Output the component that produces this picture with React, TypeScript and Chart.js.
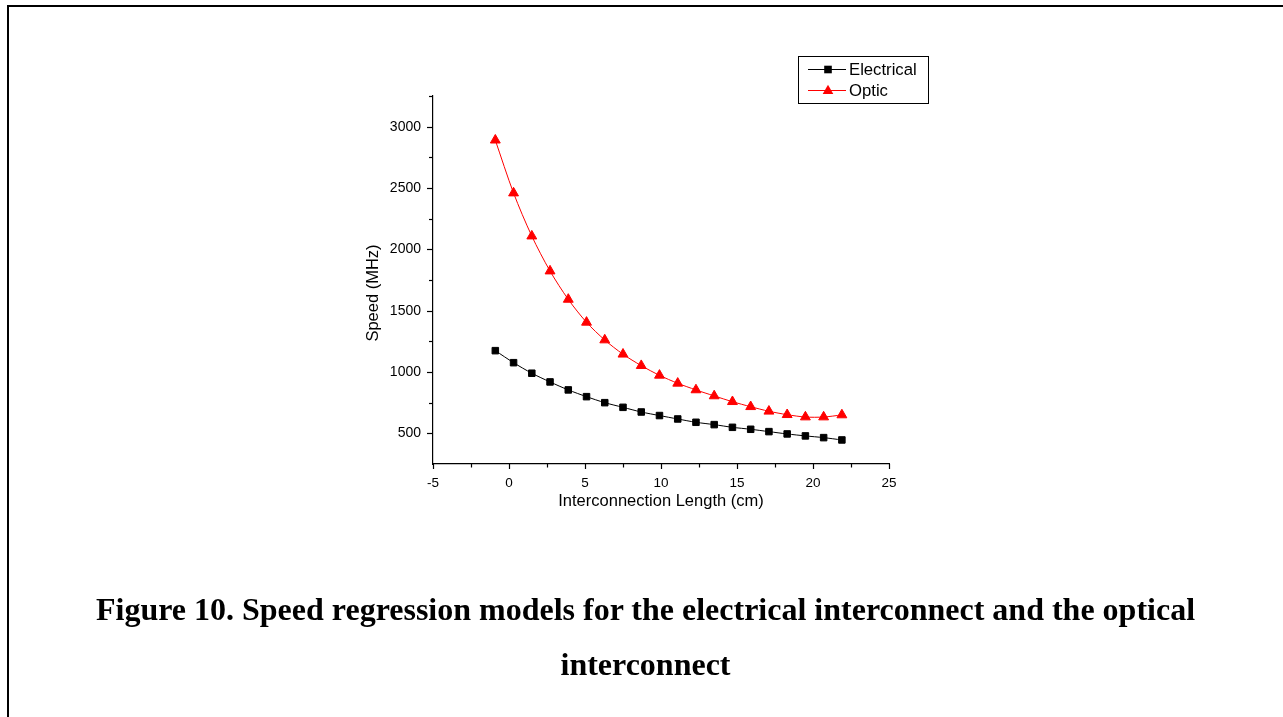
import React, { useEffect, useRef } from 'react';
import { Chart, registerables } from 'chart.js';

Chart.register(...registerables);

// ---- data ----
const lengthsCm = [-0.9, 0.3, 1.5, 2.7, 3.9, 5.1, 6.3, 7.5, 8.7, 9.9, 11.1, 12.3, 13.5, 14.7, 15.9, 17.1, 18.3, 19.5, 20.7, 21.9];
const electricalMHz = [1174, 1076, 990, 919, 854, 799, 750, 712, 674, 645, 617, 590, 571, 549, 533, 514, 495, 479, 465, 446];
const opticMHz = [2890, 2459, 2108, 1823, 1592, 1405, 1261, 1145, 1052, 973, 908, 854, 805, 758, 717, 680, 652, 633, 633, 650];
const seriesNames = ['Electrical', 'Optic'];
const xTickValues = [-5, 0, 5, 10, 15, 20, 25];
const yTickValues = [500, 1000, 1500, 2000, 2500, 3000];
const xMinorValues = [-2.5, 2.5, 7.5, 12.5, 17.5, 22.5];
const yMinorValues = [750, 1250, 1750, 2250, 2750, 3250];
const xTitle = 'Interconnection Length (cm)';
const yTitle = 'Speed (MHz)';
const captionLines = [
  'Figure 10. Speed regression models for the electrical interconnect and the optical',
  'interconnect',
];

const SANS = '"Liberation Sans", Arial, Helvetica, sans-serif';
const SERIF = '"Liberation Serif", "Times New Roman", Times, serif';

const decorPlugin = {
  id: 'decor',
  afterDraw(chart: any) {
    const { ctx, chartArea } = chart;
    const xs = chart.scales.x;
    const ys = chart.scales.y;
    ctx.save();
    ctx.strokeStyle = '#000';
    ctx.lineWidth = 1.2;
    // x ticks (outward, downward)
    const drawX = (v: number, len: number) => {
      const px = Math.round(xs.getPixelForValue(v)) + 0.5;
      ctx.beginPath();
      ctx.moveTo(px, chartArea.bottom);
      ctx.lineTo(px, chartArea.bottom + len);
      ctx.stroke();
    };
    xTickValues.forEach((v) => drawX(v, 5));
    xMinorValues.forEach((v) => drawX(v, 3.5));
    // y ticks (outward, leftward)
    const drawY = (v: number, len: number) => {
      const py = Math.round(ys.getPixelForValue(v)) + 0.5;
      ctx.beginPath();
      ctx.moveTo(chartArea.left, py);
      ctx.lineTo(chartArea.left - len, py);
      ctx.stroke();
    };
    yTickValues.forEach((v) => drawY(v, 6));
    yMinorValues.forEach((v) => drawY(v, 4));

    // axis titles
    ctx.fillStyle = '#000';
    ctx.font = `16.5px ${SANS}`;
    ctx.textAlign = 'center';
    ctx.textBaseline = 'alphabetic';
    ctx.fillText(xTitle, (chartArea.left + chartArea.right) / 2, 506);
    ctx.save();
    ctx.translate(378, 293);
    ctx.rotate(-Math.PI / 2);
    ctx.fillText(yTitle, 0, 0);
    ctx.restore();

    // legend
    const lx = 798.5, ly = 56.5, lw = 130, lh = 47;
    ctx.lineWidth = 1;
    ctx.strokeStyle = '#000';
    ctx.strokeRect(lx, ly, lw, lh);
    const ds = chart.data.datasets;
    const rows = [69, 90];
    ds.forEach((d: any, i: number) => {
      const ry = rows[i] + 0.5;
      ctx.strokeStyle = d.borderColor;
      ctx.fillStyle = d.backgroundColor;
      ctx.lineWidth = 1;
      ctx.beginPath();
      ctx.moveTo(808, ry);
      ctx.lineTo(846, ry);
      ctx.stroke();
      const cx = 828;
      if (d.pointStyle === 'rect') {
        ctx.fillRect(cx - 3.8, ry - 3.8, 7.6, 7.6);
      } else {
        ctx.beginPath();
        ctx.moveTo(cx, ry - 5.8);
        ctx.lineTo(cx + 5.3, ry + 3.4);
        ctx.lineTo(cx - 5.3, ry + 3.4);
        ctx.closePath();
        ctx.fill();
      }
      ctx.fillStyle = '#000';
      ctx.font = `16.7px ${SANS}`;
      ctx.textAlign = 'left';
      ctx.textBaseline = 'middle';
      ctx.fillText(d.label, 849, ry + 0.5);
    });
    ctx.restore();
  },
};

function ChartView() {
  const ref = useRef<HTMLCanvasElement | null>(null);
  useEffect(() => {
    if (!ref.current) return;
    const fit = (w: number | null, h: number | null) => (s: any) => {
      if (w !== null) s.width = w;
      if (h !== null) s.height = h;
      s.paddingLeft = 0;
      s.paddingRight = 0;
      s.paddingTop = 0;
      s.paddingBottom = 0;
    };
    const chart = new Chart(ref.current, {
      type: 'line',
      data: {
        datasets: [
          {
            label: seriesNames[0],
            data: lengthsCm.map((x, i) => ({ x, y: electricalMHz[i] })),
            borderColor: '#000000',
            backgroundColor: '#000000',
            borderWidth: 1,
            pointStyle: 'rect',
            pointRadius: 4.6,
            pointBorderWidth: 1,
            pointBackgroundColor: '#000000',
            pointBorderColor: '#000000',
            tension: 0.3,
          },
          {
            label: seriesNames[1],
            data: lengthsCm.map((x, i) => ({ x, y: opticMHz[i] })),
            borderColor: '#ff0000',
            backgroundColor: '#ff0000',
            borderWidth: 1,
            pointStyle: 'triangle',
            pointRadius: 5.7,
            pointBorderWidth: 1,
            pointBackgroundColor: '#ff0000',
            pointBorderColor: '#ff0000',
            tension: 0.3,
          },
        ],
      } as any,
      options: {
        animation: false,
        responsive: false,
        events: [],
        layout: { padding: { left: 353, right: 394, top: 96, bottom: 193 } },
        plugins: { legend: { display: false }, tooltip: { enabled: false }, title: { display: false } },
        scales: {
          x: {
            type: 'linear',
            min: -5,
            max: 25,
            afterBuildTicks: (s: any) => {
              s.ticks = xTickValues.map((value) => ({ value }));
            },
            afterFit: fit(null, 60),
            grid: { display: false, drawTicks: false },
            border: { display: true, color: '#000', width: 1.2 },
            ticks: {
              color: '#000',
              padding: 11,
              maxRotation: 0,
              font: { family: SANS, size: 13.5 },
              callback: (v: any) => String(v),
            },
          },
          y: {
            type: 'linear',
            min: 250,
            max: 3250,
            afterBuildTicks: (s: any) => {
              s.ticks = yTickValues.map((value) => ({ value }));
            },
            afterFit: fit(80, null),
            grid: { display: false, drawTicks: false },
            border: { display: true, color: '#000', width: 1.2 },
            ticks: {
              color: '#000',
              padding: 12,
              font: { family: SANS, size: 14 },
              callback: (v: any) => String(v),
            },
          },
        },
      } as any,
      plugins: [decorPlugin as any],
    });
    return () => chart.destroy();
  }, []);
  return (
    <canvas
      ref={ref}
      width={1283}
      height={717}
      style={{ position: 'absolute', left: 0, top: 0, width: 1283, height: 717 }}
    />
  );
}

export default function App() {
  return (
    <div
      style={{
        position: 'fixed',
        left: 0,
        top: 0,
        width: 1283,
        height: 717,
        background: '#fff',
        overflow: 'hidden',
      }}
    >
      <div
        style={{
          position: 'absolute',
          left: 7,
          top: 5,
          width: 1400,
          height: 800,
          borderTop: '2px solid #000',
          borderLeft: '2px solid #000',
        }}
      />
      <ChartView />
      <div
        style={{
          position: 'absolute',
          left: 8,
          top: 582,
          width: 1275,
          textAlign: 'center',
          fontFamily: SERIF,
          fontWeight: 'bold',
          fontSize: 32,
          lineHeight: '55px',
          color: '#000',
        }}
      >
        {captionLines.map((t, i) => (
          <div key={i} style={{ whiteSpace: 'nowrap' }}>
            {t}
          </div>
        ))}
      </div>
    </div>
  );
}
